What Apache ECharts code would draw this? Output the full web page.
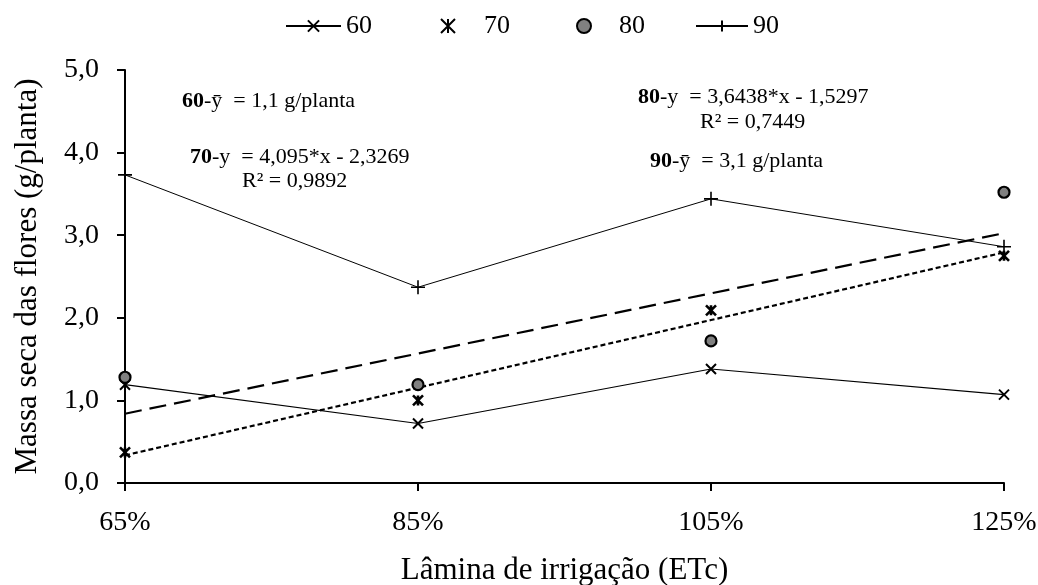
<!DOCTYPE html>
<html>
<head>
<meta charset="utf-8">
<script src="https://cdn.jsdelivr.net/npm/echarts@6/dist/echarts.min.js"></script>
<style>
  html, body { margin: 0; padding: 0; background: #fff; }
  #chart { width: 1038px; height: 585px; }
</style>
</head>
<body>
<div id="chart"></div>
<script>
// Irrigation depth levels (fraction of ETc) and their axis labels
const categories = ['65%', '85%', '105%', '125%'];
const laminaX = [0.65, 0.85, 1.05, 1.25];

// Flower dry mass (g/planta) for each treatment
const s60 = [1.19, 0.72, 1.38, 1.07];
const s70 = [0.37, 1.00, 2.09, 2.75];
const s80 = [1.28, 1.19, 1.72, 3.52];
const s90 = [3.73, 2.37, 3.44, 2.86];

// Fitted linear regressions: [slope, intercept]
const reg70 = [4.095, -2.3269];
const reg80 = [3.6438, -1.5297];

// Y axis range
const yMin = 0, yMax = 5, yStep = 1;

const fit = (c) => laminaX.map(x => +(c[0] * x + c[1]).toFixed(4));

const crossPath = 'path://M0,0L10,10M10,0L0,10';
const plusPath = 'path://M5,0L5,10M0,5L10,5';
const starPath = 'path://M0,0L10,10M10,0L0,10M5,0L5,10';

const serif = '"Liberation Serif", "DejaVu Serif", serif';
const noteSize = 22;
const boldRich = { b: { fontFamily: serif, fontSize: noteSize, fontWeight: 'bold', fill: '#000' } };

// one legend block per treatment so each entry sits where it should
const legendItem = (name, left, itemWidth, textPad) => ({
  data: [name],
  left: left,
  top: 13,
  padding: 0,
  itemWidth: itemWidth,
  itemHeight: 14,
  textStyle: { fontFamily: serif, fontSize: 26, color: '#000', padding: [0, 0, 0, textPad] }
});

const chart = echarts.init(document.getElementById('chart'), null, { renderer: 'canvas' });

chart.setOption({
  animation: false,
  backgroundColor: '#ffffff',
  textStyle: { fontFamily: serif, color: '#000' },
  grid: { left: 125, right: 34, top: 70, bottom: 102, containLabel: false, outerBoundsMode: 'none' },
  legend: [
    legendItem('60', 285, 55, 0),
    legendItem('70', 440, 14, 24),
    legendItem('80', 576, 14, 23),
    legendItem('90', 695, 52, 0)
  ],
  xAxis: {
    type: 'category',
    data: categories,
    boundaryGap: false,
    name: 'Lâmina de irrigação (ETc)',
    nameLocation: 'middle',
    nameGap: 72,
    nameTextStyle: { fontFamily: serif, fontSize: 31, color: '#000' },
    axisLine: { lineStyle: { color: '#000', width: 2 } },
    axisTick: { show: true, inside: false, length: 8, alignWithLabel: true, lineStyle: { color: '#000', width: 2 } },
    axisLabel: { fontFamily: serif, fontSize: 28, color: '#000', margin: 26 },
    splitLine: { show: false }
  },
  yAxis: {
    type: 'value',
    min: yMin,
    max: yMax,
    interval: yStep,
    name: 'Massa seca das flores (g/planta)',
    nameLocation: 'middle',
    nameGap: 82,
    nameTextStyle: { fontFamily: serif, fontSize: 31, color: '#000' },
    axisLine: { show: true, lineStyle: { color: '#000', width: 2 } },
    axisTick: { show: true, length: 8, lineStyle: { color: '#000', width: 2 } },
    axisLabel: {
      fontFamily: serif, fontSize: 28, color: '#000', margin: 26,
      formatter: v => v.toFixed(1).replace('.', ',')
    },
    splitLine: { show: false }
  },
  series: [
    {
      name: '60',
      type: 'line',
      data: s60,
      symbol: crossPath,
      symbolSize: 10,
      lineStyle: { color: '#000', width: 1.2 },
      itemStyle: { color: '#000', borderColor: '#000', borderWidth: 2 },
      z: 5
    },
    {
      name: '70',
      type: 'scatter',
      data: s70,
      symbol: starPath,
      symbolSize: 10,
      itemStyle: { color: '#000', borderColor: '#000', borderWidth: 2.6, opacity: 1 },
      z: 6
    },
    {
      name: '80',
      type: 'scatter',
      data: s80,
      symbol: 'circle',
      symbolSize: 11,
      itemStyle: { color: '#808080', borderColor: '#000', borderWidth: 2.2, opacity: 1 },
      z: 6
    },
    {
      name: '90',
      type: 'line',
      data: s90,
      symbol: plusPath,
      symbolSize: 14,
      lineStyle: { color: '#000', width: 1 },
      itemStyle: { color: '#000', borderColor: '#000', borderWidth: 1.6 },
      z: 5
    },
    {
      name: 'Linear (70)',
      type: 'line',
      data: fit(reg70),
      symbol: 'none',
      lineStyle: { color: '#000', width: 2.2, type: [5, 3] },
      z: 3
    },
    {
      name: 'Linear (80)',
      type: 'line',
      data: fit(reg80),
      symbol: 'none',
      lineStyle: { color: '#000', width: 2.2, type: [17, 8] },
      z: 3
    }
  ],
  graphic: [
    {
      type: 'text', left: 182, top: 90,
      style: {
        text: '{b|60}-y\u0304  = 1,1 g/planta',
        font: noteSize + 'px ' + serif, fill: '#000', rich: boldRich
      }
    },
    {
      type: 'text', left: 190, top: 146,
      style: {
        text: '{b|70}-y  = 4,095*x - 2,3269',
        font: noteSize + 'px ' + serif, fill: '#000', rich: boldRich
      }
    },
    {
      type: 'text', left: 242, top: 170,
      style: { text: 'R² = 0,9892', font: noteSize + 'px ' + serif, fill: '#000' }
    },
    {
      type: 'text', left: 638, top: 86,
      style: {
        text: '{b|80}-y  = 3,6438*x - 1,5297',
        font: noteSize + 'px ' + serif, fill: '#000', rich: boldRich
      }
    },
    {
      type: 'text', left: 700, top: 111,
      style: { text: 'R² = 0,7449', font: noteSize + 'px ' + serif, fill: '#000' }
    },
    {
      type: 'text', left: 650, top: 150,
      style: {
        text: '{b|90}-y\u0304  = 3,1 g/planta',
        font: noteSize + 'px ' + serif, fill: '#000', rich: boldRich
      }
    }
  ]
});
</script>
</body>
</html>
